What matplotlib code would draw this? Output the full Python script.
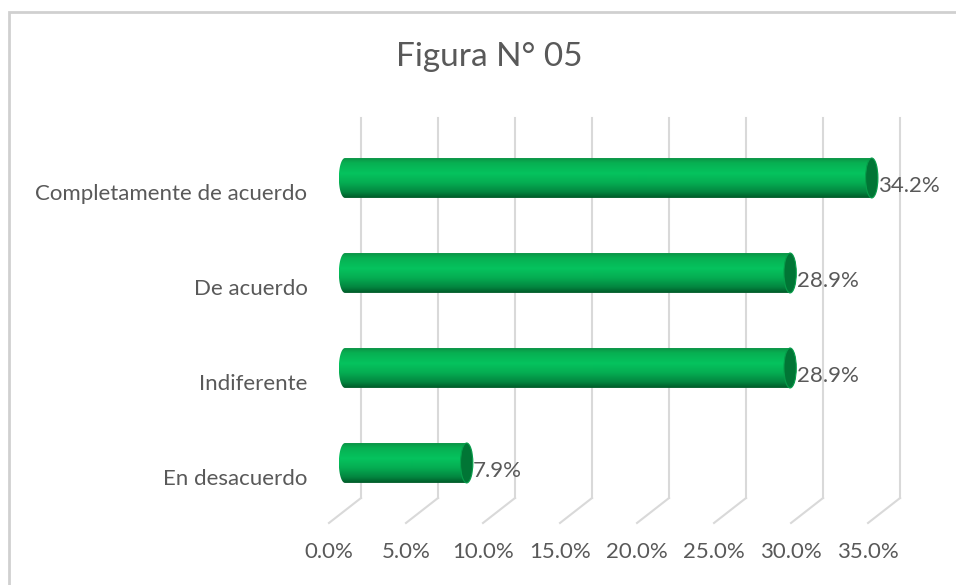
import numpy as np
import matplotlib
matplotlib.use("Agg")
import matplotlib.pyplot as plt
from matplotlib.path import Path
from matplotlib.patches import PathPatch, Ellipse, Rectangle
from matplotlib.colors import LinearSegmentedColormap

categories = ["En desacuerdo", "Indiferente", "De acuerdo", "Completamente de acuerdo"]
values = [7.9, 28.9, 28.9, 34.2]
ticks = [0, 5, 10, 15, 20, 25, 30, 35]
title = "Figura N° 05"

plt.rcParams["font.family"] = ["Lato", "DejaVu Sans"]
text_color = "#595959"
grid_color = "#d9d9d9"

# fake 3d depth (in data units): back wall offset from the front plane
depth_x, depth_y = 2.08, 0.263
bar_h = 0.42
cap_w = 0.8

fig = plt.figure(figsize=(9.56, 5.85), dpi=100)
ax = fig.add_axes([0, 0, 1, 1])
ax.set_xlim(-21.36, 40.71)
ax.set_ylim(-1.153, 5.005)
ax.axis("off")

# outer chart border (only top and left edges are visible in the crop)
fig.patches.append(Rectangle((0.0094, -0.05), 1.2, 1.0295, transform=fig.transFigure,
                             fill=False, edgecolor="#d0d0d0", lw=2))

y_floor, y_top = -0.5, len(categories) - 0.5
for t in ticks:
    ax.plot([t + depth_x, t + depth_x], [y_floor + depth_y, y_top + depth_y],
            color=grid_color, lw=1.5, zorder=1)
    ax.plot([t, t + depth_x], [y_floor, y_floor + depth_y], color=grid_color, lw=1.5, zorder=1)
    ax.text(t, y_floor - 0.31, f"{t:.1f}%", ha="center", va="center",
            fontsize=16, color=text_color)

cmap = LinearSegmentedColormap.from_list("cyl", [
    (0.0, "#0b9446"), (0.12, "#07b052"), (0.38, "#05c35e"),
    (0.62, "#05ad52"), (0.85, "#038640"), (1.0, "#005a28")])
grad = np.linspace(0, 1, 200).reshape(-1, 1)

for i, (cat, v) in enumerate(zip(categories, values)):
    yc = i + depth_y / 2
    x0 = depth_x / 2
    x1 = x0 + v
    a, b = cap_w / 2, bar_h / 2
    th = np.linspace(np.pi / 2, 3 * np.pi / 2, 40)
    verts = list(zip(x0 + a * np.cos(th), yc + b * np.sin(th)))
    verts += [(x1, yc - b), (x1, yc + b), (x0, yc + b)]
    codes = [Path.MOVETO] + [Path.LINETO] * (len(verts) - 2) + [Path.CLOSEPOLY]
    body = PathPatch(Path(verts, codes), facecolor="none", edgecolor="none")
    ax.add_patch(body)
    img = ax.imshow(grad, cmap=cmap, aspect="auto", zorder=2,
                    extent=[x0 - a, x1, yc - b, yc + b], interpolation="bilinear")
    img.set_clip_path(body)
    ax.add_patch(Ellipse((x1, yc), cap_w, bar_h, facecolor="#017535",
                         edgecolor="#069e4a", lw=0.8, zorder=3))
    ax.text(x1 + a + 0.02, yc - 0.08, f"{v:.1f}%", ha="left", va="center",
            fontsize=16, color=text_color, zorder=4)
    ax.text(-1.4, i - 0.04, cat, ha="right", va="center", fontsize=16, color=text_color)

fig.text(0.5115, 0.902, title, ha="center", va="center", fontsize=24, color=text_color)

fig.savefig("out.png", dpi=100)
